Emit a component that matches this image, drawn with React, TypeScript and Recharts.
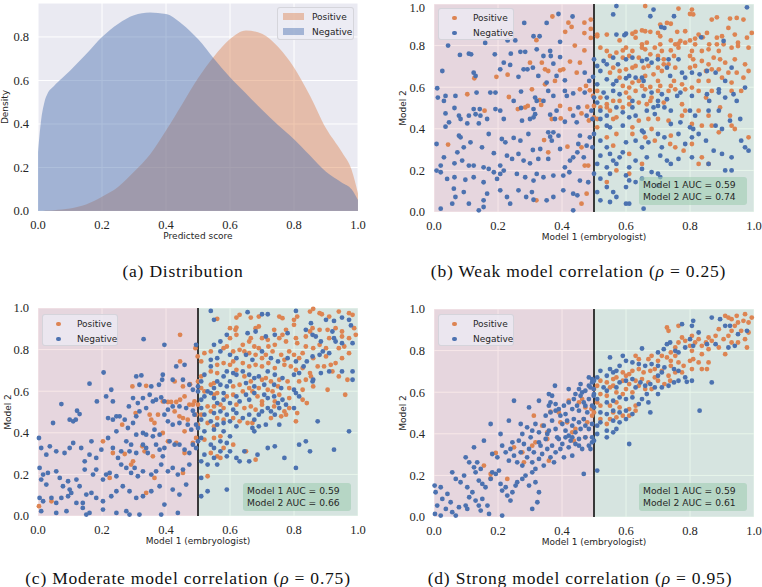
import { AreaChart, Area, ScatterChart, Scatter, XAxis, YAxis, CartesianGrid, ReferenceArea, ReferenceLine } from "recharts";

// ---- (a) density curves ----
const scoreGrid = [0, 0.01, 0.02, 0.03, 0.05, 0.075, 0.1, 0.15, 0.2, 0.25, 0.3, 0.35, 0.4, 0.45, 0.5, 0.55, 0.6, 0.65, 0.7, 0.75, 0.8, 0.85, 0.9, 0.95, 0.98, 1.0];
const positiveDensity = [0, 0, 0.001, 0.002, 0.004, 0.007, 0.012, 0.03, 0.065, 0.11, 0.18, 0.26, 0.37, 0.49, 0.61, 0.71, 0.79, 0.83, 0.815, 0.755, 0.66, 0.53, 0.38, 0.27, 0.19, 0.08];
const negativeDensity = [0.27, 0.42, 0.5, 0.54, 0.575, 0.61, 0.645, 0.72, 0.8, 0.86, 0.9, 0.912, 0.905, 0.86, 0.79, 0.7, 0.615, 0.54, 0.465, 0.395, 0.33, 0.255, 0.18, 0.13, 0.1, 0.05];

const unitTicks = [0, 0.2, 0.4, 0.6, 0.8, 1.0];
const densityTicks = [0, 0.2, 0.4, 0.6, 0.8];

// ---- (b) weak correlation ----
const weakPositive: [number, number][] = [
  [.37,.94],[.42,.91],[.47,.91],[.49,.925],[.41,.866],[.43,.89],[.47,.86],[.49,.88],[.32,.826],[.44,.80],[.49,.837],[.47,.777],[.425,.723],[.456,.718],[.30,.718],[.337,.718],[.347,.686],[.357,.678],[.394,.681],[.404,.686],[.446,.67],[.126,.643],[.195,.65],[.23,.66],[.378,.63],[.347,.614],[.475,.606],[.104,.566],[.234,.553],[.306,.59],[.33,.538],[.456,.59],[.487,.585],[.497,.558],[.158,.487],[.262,.495],[.285,.503],[.293,.51],[.335,.515],[.368,.447],[.394,.51],[.396,.45],[.425,.495],[.461,.474],[.479,.506],[.484,.44],[.044,.324],[.344,.346],[.357,.287],[.417,.314],[.461,.311],[.471,.223],[.482,.223],[.477,.088],[.461,.04],[.32,.056],
  [.66,.99],[.764,.978],[.806,.973],[.80,.952],[.81,.95],[.868,.925],[.884,.936],[.925,.93],[.946,.933],[.967,.925],[.92,.885],[.707,.901],[.728,.909],[.74,.905],[.51,.853],[.54,.853],[.51,.845],[.62,.857],[.63,.866],[.65,.873],[.66,.869],[.676,.866],[.70,.861],[.76,.866],[.785,.869],[.827,.853],[.84,.84],[.853,.861],[.884,.838],[.90,.845],[.94,.853],[.978,.838],[.993,.861],
  [.58,.825],[.63,.838],[.707,.845],[.74,.825],[.77,.822],[.80,.825],[.816,.834],[.65,.806],[.665,.814],[.707,.806],[.754,.806],[.764,.809],[.785,.814],[.816,.806],[.86,.806],[.884,.806],[.905,.806],[.95,.814],
  [.52,.79],[.54,.774],[.55,.75],[.57,.766],[.59,.777],[.60,.79],[.62,.774],[.65,.79],[.66,.782],[.69,.79],[.712,.774],[.74,.777],[.764,.79],[.806,.774],[.837,.774],[.858,.782],[.89,.774],[.93,.79],[.95,.798],[.983,.79],
  [.59,.742],[.61,.75],[.64,.742],[.676,.758],[.70,.75],[.718,.734],[.75,.75],[.80,.75],[.81,.734],[.837,.726],[.858,.71],[.874,.742],[.894,.734],[.91,.718],[.94,.734],[.972,.71],[.946,.67],[.967,.646],
  [.56,.694],[.58,.678],[.60,.686],[.62,.694],[.63,.702],[.655,.694],[.67,.702],[.70,.694],[.712,.678],[.718,.71],[.733,.71],[.754,.694],[.80,.694],[.816,.702],[.85,.678],[.868,.686],[.89,.686],[.92,.67],
  [.55,.67],[.58,.646],[.62,.622],[.64,.63],[.66,.654],[.686,.662],[.70,.63],[.75,.63],[.775,.614],[.827,.63],[.858,.63],[.90,.646],[.93,.622],[.983,.678],[.59,.606],[.61,.598],[.65,.606],[.676,.601],[.707,.606],[.74,.606],
  [.51,.582],[.52,.55],[.54,.518],[.56,.534],[.58,.534],[.60,.574],[.61,.55],[.63,.582],[.66,.59],[.68,.55],[.70,.582],[.733,.582],[.754,.59],[.785,.59],[.806,.598],[.827,.582],[.85,.55],[.868,.582],[.93,.582],[.96,.582],
  [.50,.51],[.52,.503],[.54,.503],[.55,.487],[.59,.503],[.61,.518],[.64,.526],[.665,.518],[.676,.534],[.718,.526],[.775,.518],[.785,.487],[.827,.487],[.858,.463],[.894,.503],[.925,.463],
  [.50,.455],[.51,.447],[.56,.447],[.57,.455],[.64,.439],[.67,.447],[.70,.447],[.733,.439],[.775,.463],[.806,.423],[.837,.415],[.868,.415],[.93,.415],[.94,.399],[.51,.407],[.62,.407],[.68,.399],
  [.54,.359],[.57,.375],[.62,.375],[.66,.359],[.69,.343],[.738,.327],[.78,.295],[.806,.327],[.837,.263],[.858,.231],[.983,.359],[.74,.367],[.56,.319],[.61,.279],[.65,.231],[.754,.311],[.827,.231],[.89,.383],[.57,.2],[.54,.144],[.61,.184],
];
const weakNegative: [number, number][] = [
  [.23,.825],[.254,.825],[.389,.952],[.433,.94],[.352,.909],[.282,.909],[.311,.845],[.33,.845],[.16,.813],[.044,.80],[.394,.818],[.081,.755],[.109,.761],[.116,.758],[.19,.758],[.24,.761],[.27,.77],[.285,.77],[.321,.782],[.363,.774],[.342,.75],[.365,.75],[.394,.745],[.373,.713],[.218,.718],[.238,.707],[.026,.678],[.28,.686],[.292,.686],[.309,.694],[.471,.67],[.124,.67],[.13,.654],[.207,.686],[.264,.65],[.326,.654],[.383,.654],[.352,.622],[.409,.633],[.485,.63],[.497,.65],
  [.01,.595],[.036,.558],[.067,.558],[.133,.574],[.176,.574],[.192,.574],[.272,.579],[.316,.55],[.357,.582],[.373,.558],[.409,.582],[.415,.558],[.435,.57],[.471,.574],[.031,.534],[.012,.55],[.064,.50],[.036,.474],[.078,.463],[.109,.463],[.124,.495],[.143,.495],[.13,.47],[.145,.463],[.192,.495],[.207,.487],[.166,.447],[.218,.447],[.249,.534],[.272,.50],[.311,.495],[.321,.534],[.342,.534],[.363,.468],[.311,.455],[.30,.447],[.316,.47],[.383,.487],[.435,.463],[.451,.503],[.477,.463],[.492,.487],[.378,.447],[.047,.431],[.083,.447],[.104,.426],[.14,.426],[.275,.439],[.409,.434],[.446,.431],[.495,.447],[.036,.41],
  [.008,.327],[.078,.367],[.083,.359],[.093,.311],[.073,.287],[.031,.263],[.114,.335],[.15,.311],[.171,.375],[.187,.283],[.212,.351],[.223,.335],[.249,.356],[.264,.279],[.27,.343],[.295,.375],[.309,.298],[.332,.303],[.357,.383],[.373,.383],[.389,.367],[.363,.362],[.368,.343],[.394,.303],[.451,.327],[.456,.367],[.477,.319],[.487,.359],[.495,.311],[.435,.263],[.448,.287],[.468,.263],
  [.064,.234],[.088,.247],[.109,.223],[.124,.223],[.155,.215],[.171,.207],[.207,.223],[.228,.271],[.244,.255],[.28,.247],[.30,.234],[.326,.255],[.357,.255],[.425,.247],[.409,.215],[.008,.199],[.021,.223],[.021,.191],[.041,.159],[.064,.167],[.098,.155],[.124,.167],[.155,.143],[.187,.191],[.197,.159],[.207,.183],[.218,.199],[.259,.183],[.285,.167],[.311,.151],[.321,.183],[.342,.167],[.373,.175],[.404,.175],[.423,.191],[.456,.151],[.482,.143],
  [.062,.112],[.067,.072],[.093,.096],[.155,.056],[.166,.088],[.109,.04],[.207,.104],[.228,.072],[.264,.104],[.288,.072],[.306,.096],[.311,.059],[.352,.056],[.373,.072],[.404,.104],[.435,.088],[.448,.08],[.021,.016],[.155,.024],[.238,.04],[.435,.008],[.14,.008],[.057,.04],
  [.57,.99],[.56,.95],[.686,.973],[.676,.941],[.75,.941],[.978,.984],[.71,.889],[.57,.853],[.60,.857],[.595,.85],[.72,.885],[.835,.84],[.905,.822],
  [.50,.734],[.51,.702],[.53,.726],[.54,.71],[.52,.678],[.56,.742],[.575,.71],[.60,.734],[.62,.742],[.65,.726],[.665,.734],[.68,.718],[.70,.734],[.733,.734],[.764,.734],[.728,.694],[.775,.67],[.785,.646],[.738,.654],[.806,.67],[.83,.662],[.853,.678],[.88,.67],[.93,.694],[.91,.63],[.89,.59],[.65,.646],[.655,.63],[.63,.646],[.61,.654],[.60,.643],[.57,.63],[.56,.614],[.54,.638],[.51,.614],
  [.50,.55],[.53,.574],[.54,.55],[.56,.582],[.58,.566],[.51,.526],[.62,.534],[.62,.503],[.655,.558],[.68,.574],[.70,.534],[.712,.566],[.728,.542],[.76,.558],[.77,.574],[.806,.558],[.853,.566],[.86,.534],[.89,.574],[.91,.55],[.936,.566],[.946,.534],[.972,.598],
  [.52,.487],[.54,.463],[.57,.503],[.59,.479],[.61,.455],[.63,.463],[.665,.487],[.686,.503],[.70,.51],[.72,.503],[.69,.471],[.74,.487],[.80,.487],[.816,.463],[.858,.487],[.89,.487],[.925,.439],[.957,.447],[.90,.399],[.88,.415],[.54,.415],[.52,.447],[.55,.407],[.59,.415],[.65,.391],[.655,.383],[.74,.423],[.77,.431],[.80,.407],[.81,.399],
  [.50,.375],[.52,.343],[.54,.311],[.55,.279],[.52,.271],[.56,.247],[.58,.263],[.59,.287],[.60,.335],[.63,.343],[.65,.311],[.67,.335],[.70,.375],[.72,.359],[.712,.311],[.764,.375],[.785,.327],[.806,.359],[.827,.375],[.85,.343],[.874,.295],[.90,.279],[.93,.263],[.96,.343],[.972,.311],[.983,.295],
  [.51,.231],[.54,.215],[.57,.231],[.61,.215],[.63,.247],[.665,.263],[.707,.271],[.728,.247],[.74,.231],[.764,.255],[.806,.263],[.858,.231],[.91,.2],[.65,.207],
  [.50,.184],[.52,.16],[.55,.184],[.60,.176],[.61,.152],[.63,.144],[.65,.16],[.68,.192],[.70,.184],[.707,.168],[.70,.128],[.60,.12],[.54,.12],[.51,.096],[.56,.096],[.52,.056],[.57,.072],[.55,.048],[.60,.04],[.61,.04],[.655,.016],[.93,.2],
];

// ---- (c) moderate correlation ----
const moderatePositive: [number, number][] = [
  [.444,.871],[.499,.767],[.492,.807],[.444,.743],[.295,.623],[.338,.626],[.427,.647],[.453,.623],[.475,.634],[.263,.439],[.305,.495],[.354,.463],[.364,.447],[.349,.487],[.39,.551],[.406,.548],[.416,.548],[.432,.548],[.444,.559],[.458,.575],[.473,.535],[.484,.535],[.489,.551],[.427,.503],[.442,.479],[.453,.471],[.468,.463],[.494,.487],[.375,.487],[.458,.407],[.39,.399],[.406,.359],[.203,.359],[.234,.303],[.271,.298],[.297,.263],[.291,.247],[.326,.335],[.333,.311],[.359,.287],[.432,.351],[.458,.303],[.484,.351],[.494,.375],[.224,.183],[.364,.183],[.453,.207],[.338,.111],[.003,.047],[.042,.071],
  [.56,.948],[.62,.954],[.63,.967],[.665,.954],[.69,.959],[.754,.959],[.764,.951],[.80,.943],[.81,.959],[.85,.983],[.86,.996],[.88,.975],[.887,.97],[.91,.959],[.94,.983],[.972,.975],[.983,.967],[.95,.887],
  [.60,.903],[.617,.895],[.62,.906],[.68,.903],[.69,.911],[.738,.895],[.775,.895],[.80,.919],[.85,.887],[.858,.903],[.88,.895],[.905,.895],[.93,.903],[.988,.903],[.60,.855],[.62,.871],[.665,.855],[.70,.855],[.718,.847],[.754,.855],[.764,.871],[.806,.855],[.837,.863],[.91,.855],[.95,.863],[.972,.855],[.993,.871],
  [.58,.807],[.59,.815],[.64,.823],[.66,.839],[.676,.815],[.69,.807],[.72,.815],[.74,.823],[.775,.839],[.81,.831],[.837,.815],[.86,.807],[.88,.823],[.90,.807],[.94,.807],[.957,.815],
  [.52,.783],[.54,.791],[.61,.791],[.63,.799],[.645,.791],[.66,.783],[.68,.775],[.70,.759],[.712,.775],[.733,.791],[.76,.775],[.77,.751],[.785,.791],[.80,.775],[.816,.759],[.827,.783],[.86,.759],[.90,.767],[.915,.727],[.93,.735],[.95,.759],[.972,.783],
  [.51,.743],[.56,.727],[.58,.735],[.60,.727],[.61,.743],[.64,.735],[.66,.719],[.68,.727],[.70,.719],[.72,.735],[.74,.711],[.77,.727],[.79,.719],[.806,.703],[.827,.711],[.85,.687],[.874,.719],[.894,.719],[.92,.695],[.94,.671],[.967,.655],
  [.51,.671],[.54,.695],[.56,.687],[.62,.703],[.645,.671],[.665,.647],[.70,.655],[.712,.663],[.728,.647],[.754,.655],[.78,.647],[.816,.647],[.837,.655],[.853,.671],[.86,.623],[.96,.583],[.905,.607],
  [.50,.647],[.51,.615],[.54,.631],[.55,.639],[.61,.623],[.63,.631],[.66,.615],[.69,.615],[.718,.607],[.75,.623],[.785,.615],[.827,.607],
  [.52,.599],[.55,.583],[.56,.591],[.59,.575],[.61,.583],[.64,.599],[.67,.599],[.686,.575],[.70,.551],[.733,.599],[.754,.583],[.785,.567],[.827,.559],[.84,.543],[.74,.551],
  [.50,.535],[.53,.527],[.55,.527],[.57,.535],[.58,.519],[.62,.535],[.645,.519],[.665,.527],[.68,.511],[.70,.535],[.738,.527],[.77,.503],[.785,.519],[.81,.495],
  [.51,.487],[.54,.503],[.56,.471],[.58,.463],[.61,.471],[.63,.455],[.655,.447],[.67,.447],[.728,.471],[.76,.479],[.775,.487],[.53,.447],[.55,.431],[.50,.439],[.806,.455],
  [.52,.367],[.55,.375],[.57,.383],[.58,.327],[.61,.343],[.65,.311],[.56,.287],[.54,.303],[.57,.279],[.68,.271],[.53,.191],
];
const moderateNegative: [number, number][] = [
  [.33,.85],[.395,.823],[.494,.823],[.432,.719],[.458,.727],[.205,.69],[.161,.636],[.307,.671],[.323,.676],[.317,.631],[.354,.623],[.378,.631],[.39,.679],[.388,.655],[.421,.655],[.453,.655],[.473,.631],[.484,.607],[.229,.607],[.213,.575],[.184,.551],[.234,.551],[.073,.538],[.122,.506],[.13,.49],[.118,.463],[.099,.463],[.047,.447],[.11,.455],[.245,.479],[.234,.463],[.219,.471],[.255,.479],
  [.284,.527],[.297,.567],[.312,.543],[.328,.567],[.349,.583],[.359,.551],[.369,.559],[.385,.57],[.395,.551],[.338,.519],[.317,.503],[.307,.479],[.297,.447],[.281,.423],[.271,.463],[.406,.511],[.421,.527],[.442,.527],[.463,.519],[.484,.506],[.489,.487],[.395,.487],[.406,.455],[.421,.439],[.442,.447],[.468,.439],[.479,.415],[.494,.439],[.364,.415],[.338,.391],[.359,.383],[.38,.391],[.328,.399],[.307,.391],
  [.003,.375],[.01,.327],[.037,.335],[.026,.295],[.057,.311],[.083,.303],[.099,.327],[.11,.351],[.135,.327],[.167,.359],[.146,.263],[.161,.295],[.182,.279],[.198,.319],[.219,.375],[.245,.407],[.234,.327],[.26,.311],[.25,.279],[.276,.359],[.291,.343],[.286,.311],[.307,.303],[.328,.343],[.338,.327],[.343,.303],[.369,.343],[.38,.319],[.395,.327],[.39,.287],[.411,.359],[.427,.343],[.442,.343],[.458,.319],[.473,.303],[.484,.343],[.494,.327],
  [.005,.231],[.016,.199],[.01,.175],[.026,.151],[.031,.207],[.057,.215],[.068,.183],[.078,.143],[.094,.167],[.099,.127],[.12,.175],[.13,.143],[.146,.223],[.172,.199],[.182,.223],[.203,.175],[.213,.199],[.224,.207],[.245,.191],[.26,.247],[.276,.231],[.291,.207],[.302,.231],[.312,.191],[.328,.215],[.354,.199],[.369,.215],[.385,.247],[.406,.215],[.421,.231],[.437,.199],[.453,.223],[.473,.247],
  [.005,.087],[.016,.071],[.042,.087],[.057,.063],[.073,.087],[.094,.095],[.104,.111],[.12,.063],[.14,.063],[.151,.103],[.167,.111],[.182,.087],[.203,.071],[.229,.095],[.245,.119],[.265,.143],[.286,.119],[.307,.087],[.328,.095],[.354,.119],[.38,.143],[.395,.055],[.421,.127],[.442,.103],[.463,.151],
  [.01,.023],[.057,.015],[.089,.023],[.14,.039],[.151,.007],[.161,.015],[.203,.031],[.245,.015],[.276,.023],[.286,.007],[.317,.007],[.385,.007],[.437,.015],
  [.54,.986],[.55,.943],[.655,.98],[.70,.97],[.718,.97],[.806,.986],[.853,.927],[.90,.943],[.925,.938],[.95,.954],[.972,.943],[.978,.916],[.59,.871],[.655,.879],[.68,.887],[.712,.863],[.74,.871],[.78,.879],[.837,.895],[.858,.871],[.868,.863],[.884,.839],[.92,.887],[.925,.855],[.93,.839],[.95,.831],[.983,.831],[.57,.839],[.55,.823],
  [.57,.791],[.56,.759],[.54,.751],[.54,.719],[.60,.775],[.62,.759],[.65,.775],[.67,.751],[.70,.791],[.728,.759],[.75,.743],[.78,.759],[.806,.743],[.83,.719],[.84,.743],[.858,.767],[.88,.775],[.89,.791],[.91,.783],[.95,.695],[.983,.695],[.983,.655],
  [.52,.679],[.51,.647],[.50,.623],[.56,.647],[.58,.671],[.59,.695],[.61,.687],[.62,.679],[.64,.695],[.66,.679],[.676,.663],[.69,.671],[.718,.695],[.74,.679],[.764,.663],[.80,.679],[.816,.687],[.86,.655],[.884,.687],[.91,.695],
  [.53,.599],[.55,.615],[.57,.631],[.59,.623],[.60,.647],[.65,.639],[.676,.623],[.707,.631],[.738,.631],[.76,.615],[.80,.607],[.858,.647],
  [.50,.599],[.51,.559],[.52,.575],[.54,.591],[.55,.567],[.56,.543],[.58,.591],[.58,.559],[.60,.543],[.62,.575],[.63,.551],[.65,.583],[.66,.559],[.676,.591],[.707,.583],[.718,.567],[.738,.575],[.75,.543],[.764,.559],[.806,.591],[.816,.575],
  [.51,.519],[.52,.487],[.55,.495],[.57,.503],[.59,.487],[.61,.511],[.62,.495],[.64,.471],[.66,.487],[.676,.463],[.69,.487],[.70,.503],[.718,.519],[.728,.503],[.74,.487],[.754,.519],[.775,.535],[.80,.519],
  [.51,.463],[.54,.455],[.56,.439],[.58,.447],[.60,.455],[.62,.431],[.67,.423],[.676,.407],[.69,.431],[.712,.439],[.754,.439],[.874,.455],[.972,.407],[.50,.423],[.52,.407],[.55,.415],[.58,.407],[.60,.383],
  [.50,.359],[.51,.375],[.54,.343],[.55,.327],[.57,.359],[.57,.311],[.59,.351],[.60,.311],[.52,.295],[.55,.279],[.51,.263],[.53,.247],[.56,.247],[.59,.287],[.62,.279],[.63,.263],[.645,.311],[.66,.263],[.686,.295],[.718,.327],[.74,.335],[.77,.279],[.816,.343],[.837,.359],[.85,.311],[.806,.231],[.925,.319],[.51,.183],[.59,.127],[.51,.095],[.53,.119],
];

// ---- (d) strong correlation ----
const strongPositive: [number, number][] = [
  [.312,.487],[.338,.439],[.354,.407],[.364,.506],[.39,.503],[.395,.455],[.416,.455],[.421,.559],[.432,.407],[.437,.367],[.442,.423],[.453,.551],[.463,.567],[.468,.471],[.473,.527],[.479,.455],[.492,.519],[.494,.487],[.473,.383],[.354,.375],[.156,.247],[.177,.186],[.193,.308],[.229,.183],[.276,.311],[.25,.335],[.281,.263],[.307,.343],[.317,.359],[.359,.271],[.177,.207],
  [.91,.967],[.92,.959],[.93,.951],[.946,.967],[.95,.935],[.967,.943],[.972,.975],[.983,.935],[.993,.959],[.983,.887],[.972,.855],[.96,.895],[.94,.919],[.93,.895],[.92,.871],[.905,.855],[.89,.903],[.88,.871],[.868,.847],[.858,.863],[.85,.839],[.837,.823],[.827,.855],[.816,.839],[.806,.871],[.80,.823],[.785,.847],[.775,.863],[.764,.839],[.754,.815],[.74,.791],[.733,.895],[.728,.911],[.764,.919],[.806,.799],[.837,.783],[.858,.807],[.89,.815],[.91,.783],[.93,.839],[.95,.839],[.978,.815],
  [.63,.775],[.64,.759],[.67,.759],[.68,.775],[.70,.751],[.712,.775],[.728,.767],[.74,.751],[.754,.775],[.764,.743],[.78,.727],[.80,.751],[.81,.759],[.827,.743],[.837,.711],[.853,.711],[.858,.743],[.806,.711],[.775,.695],[.754,.695],[.74,.727],[.733,.679],[.712,.703],[.69,.711],[.676,.703],[.655,.695],[.64,.711],[.62,.703],[.61,.687],[.60,.679],[.59,.695],[.57,.671],[.56,.663],[.54,.647],[.52,.655],[.51,.631],[.50,.615],[.55,.623],[.56,.631],[.59,.655],[.61,.639],[.63,.655],[.64,.631],[.65,.663],[.67,.647],[.69,.671],[.70,.655],[.72,.639],[.738,.655],[.60,.615],[.62,.599],[.59,.591],[.57,.599],[.54,.583],[.52,.591],[.66,.615],[.68,.615],
  [.51,.551],[.52,.535],[.55,.535],[.57,.551],[.58,.527],[.61,.519],[.63,.535],[.61,.487],[.59,.487],[.57,.479],[.55,.471],[.54,.447],[.52,.471],[.50,.503],[.63,.511],[.56,.503],
];
const strongNegative: [number, number][] = [
  [.002,.151],[.005,.119],[.021,.143],[.026,.087],[.042,.111],[.052,.071],[.01,.055],[.037,.039],[.057,.023],[.078,.047],[.003,.015],[.021,.007],[.068,.007],
  [.057,.215],[.068,.183],[.083,.167],[.094,.199],[.104,.143],[.11,.095],[.12,.119],[.13,.079],[.099,.055],[.104,.039],[.14,.055],[.151,.087],[.146,.031],[.167,.055],[.172,.015],[.213,.007],
  [.099,.287],[.11,.263],[.125,.239],[.135,.263],[.13,.215],[.146,.231],[.14,.175],[.151,.159],[.161,.143],[.177,.183],[.182,.215],[.193,.207],[.203,.223],[.208,.159],[.213,.127],[.224,.143],[.229,.103],[.239,.079],[.245,.119],[.255,.151],[.26,.167],[.276,.183],[.286,.199],[.297,.151],[.307,.215],[.317,.167],[.328,.119],[.323,.071],[.307,.039],
  [.125,.335],[.156,.367],[.177,.447],[.182,.303],[.198,.287],[.208,.399],[.213,.343],[.224,.311],[.234,.271],[.239,.327],[.245,.359],[.25,.295],[.26,.263],[.265,.367],[.271,.311],[.276,.247],[.281,.351],[.291,.287],[.297,.327],[.302,.383],[.307,.263],[.312,.311],[.317,.231],[.328,.279],[.333,.343],[.338,.303],[.343,.247],[.349,.375],[.354,.327],[.364,.287],[.369,.343],[.375,.263],[.38,.311],[.39,.375],[.395,.327],[.401,.351],[.406,.287],[.411,.383],[.421,.335],[.427,.367],[.432,.295],[.442,.351],[.453,.375],[.463,.327],[.468,.207],[.484,.343],[.494,.359],
  [.234,.463],[.271,.447],[.276,.399],[.291,.431],[.307,.415],[.317,.447],[.328,.407],[.343,.439],[.354,.399],[.359,.415],[.364,.503],[.369,.463],[.38,.423],[.385,.383],[.395,.487],[.401,.447],[.411,.415],[.416,.463],[.421,.391],[.432,.439],[.437,.471],[.442,.407],[.453,.455],[.458,.423],[.468,.471],[.473,.439],[.484,.423],[.494,.447],[.432,.383],[.453,.343],[.473,.383],[.494,.383],[.489,.327],
  [.25,.559],[.297,.527],[.328,.559],[.349,.487],[.359,.535],[.369,.583],[.38,.511],[.39,.519],[.406,.535],[.411,.495],[.421,.551],[.432,.519],[.437,.567],[.447,.535],[.453,.511],[.458,.583],[.468,.551],[.473,.535],[.479,.503],[.484,.567],[.494,.535],[.499,.583],[.359,.591],[.364,.551],[.38,.543],
  [.421,.615],[.442,.591],[.453,.615],[.458,.639],[.463,.599],[.473,.607],[.484,.631],[.489,.623],[.494,.647],[.499,.615],[.484,.671],[.494,.663],[.378,.631],[.328,.359],
  [.868,.959],[.894,.951],[.91,.919],[.925,.919],[.95,.879],[.978,.895],[.81,.943],[.806,.919],[.775,.927],[.80,.855],[.785,.815],[.754,.799],[.738,.839],[.65,.81],[.70,.791],[.718,.807],[.88,.831],[.853,.831],[.827,.887],[.81,.823],[.764,.791],[.728,.831],[.94,.823],[.92,.815],
  [.55,.767],[.59,.775],[.60,.751],[.58,.727],[.57,.703],[.55,.711],[.52,.703],[.51,.671],[.62,.743],[.64,.735],[.66,.727],[.68,.735],[.70,.727],[.712,.695],[.70,.679],[.72,.719],[.75,.711],[.764,.703],[.785,.671],[.806,.655],[.79,.65],[.764,.655],[.75,.647],[.733,.631],[.712,.623],[.69,.623],[.676,.639],[.66,.631],[.645,.647],[.62,.663],[.60,.655],[.58,.647],[.56,.695],[.54,.679],[.50,.655],[.868,.647],[.57,.623],[.54,.607],[.53,.623],[.63,.623],
  [.70,.591],[.665,.591],[.65,.567],[.67,.551],[.64,.543],[.62,.575],[.60,.567],[.58,.575],[.56,.559],[.54,.551],[.51,.567],[.50,.591],
  [.50,.527],[.52,.503],[.54,.495],[.56,.511],[.58,.503],[.60,.511],[.62,.495],[.676,.503],[.56,.463],[.58,.455],[.60,.471],[.52,.455],[.51,.439],[.54,.415],[.57,.423],[.51,.399],[.54,.383],[.56,.407],[.50,.367],[.61,.351],[.83,.511],[.51,.223],
];

const ORANGE = "#DD8452";
const BLUE = "#4C72B0";
const SANS = "'DejaVu Sans', sans-serif";
const SERIF = "'Liberation Serif', serif";
const TEXT = "#262626";

const tickStyle = { fontFamily: SERIF, fontSize: 12.5, fill: TEXT };
const fmt = (v: number) => v.toFixed(1);
const toPoints = (arr: [number, number][]) => arr.map(([x, y]) => ({ x, y }));

const densityData = scoreGrid.map((x, i) => ({ x, pos: positiveDensity[i], neg: negativeDensity[i] }));

function Dot(props: any) {
  const { cx, cy, fill } = props;
  if (cx == null || cy == null) return null;
  return <circle cx={cx} cy={cy} r={2.4} fill={fill} />;
}

function ScatterLegend({ left, top }: { left: number; top: number }) {
  return (
    <div
      style={{
        position: "absolute",
        left,
        top,
        width: 76,
        height: 32,
        background: "rgba(236,234,242,0.8)",
        border: "1px solid rgba(210,210,216,0.9)",
        borderRadius: 3,
        boxSizing: "border-box",
        fontFamily: SANS,
        fontSize: 9,
        color: TEXT,
      }}
    >
      {[["Positive", ORANGE], ["Negative", BLUE]].map(([label, color], i) => (
        <div key={label} style={{ position: "absolute", left: 0, top: 3 + i * 15, height: 12, display: "flex", alignItems: "center" }}>
          <span style={{ position: "absolute", left: 13, width: 4.6, height: 4.6, borderRadius: "50%", background: color }} />
          <span style={{ position: "absolute", left: 34, whiteSpace: "nowrap" }}>{label}</span>
        </div>
      ))}
    </div>
  );
}

function AucBox({ left, top, m1, m2 }: { left: number; top: number; m1: string; m2: string }) {
  return (
    <div
      style={{
        position: "absolute",
        left,
        top,
        width: 108,
        height: 28,
        background: "rgba(160,205,178,0.6)",
        borderRadius: 3,
        fontFamily: SANS,
        fontSize: 9.2,
        lineHeight: "12px",
        color: TEXT,
        padding: "2px 0 0 4px",
        boxSizing: "border-box",
        whiteSpace: "nowrap",
      }}
    >
      <div>Model 1 AUC = {m1}</div>
      <div>Model 2 AUC = {m2}</div>
    </div>
  );
}

function Caption({ left, top, width, children }: { left: number; top: number; width: number; children: any }) {
  return (
    <div
      style={{
        position: "absolute",
        left,
        top,
        width,
        textAlign: "center",
        fontFamily: SERIF,
        fontSize: 17.5,
        letterSpacing: 0.8,
        lineHeight: "20px",
        color: "#111",
        whiteSpace: "nowrap",
      }}
    >
      {children}
    </div>
  );
}

function CorrPanel({
  positive,
  negative,
  width,
  marginTop,
  marginRight,
  yAxisWidth,
  yLabelOffset,
}: {
  positive: [number, number][];
  negative: [number, number][];
  width: number;
  marginTop: number;
  marginRight: number;
  yAxisWidth: number;
  yLabelOffset: number;
}) {
  return (
    <ScatterChart width={width} height={marginTop + 208 + 38} margin={{ top: marginTop, right: marginRight, bottom: 0, left: 0 }}>
      <CartesianGrid stroke="#fff" strokeWidth={1} fill="#EAEAF2" fillOpacity={1} />
      <ReferenceArea x1={0} x2={0.5} y1={0} y2={1} fill="#CF656D" fillOpacity={0.15} stroke="none" />
      <ReferenceArea x1={0.5} x2={1} y1={0} y2={1} fill="#65C27A" fillOpacity={0.15} stroke="none" />
      <XAxis
        type="number"
        dataKey="x"
        domain={[0, 1]}
        ticks={unitTicks}
        tickFormatter={fmt}
        tick={tickStyle}
        axisLine={false}
        tickLine={false}
        tickSize={6}
        tickMargin={3}
        height={38}
        label={{ value: "Model 1 (embryologist)", position: "insideTop", offset: 22, style: { fontFamily: SANS, fontSize: 9, fill: TEXT } }}
      />
      <YAxis
        type="number"
        dataKey="y"
        domain={[0, 1]}
        ticks={unitTicks}
        tickFormatter={fmt}
        tick={tickStyle}
        axisLine={false}
        tickLine={false}
        tickSize={6}
        tickMargin={3}
        width={yAxisWidth}
        label={{ value: "Model 2", angle: -90, position: "insideLeft", offset: yLabelOffset, style: { fontFamily: SANS, fontSize: 9, fill: TEXT, textAnchor: "middle" } }}
      />
      <ReferenceLine x={0.5} stroke="#000" strokeWidth={1.5} />
      <Scatter data={toPoints(positive)} fill={ORANGE} shape={<Dot />} isAnimationActive={false} />
      <Scatter data={toPoints(negative)} fill={BLUE} shape={<Dot />} isAnimationActive={false} />
    </ScatterChart>
  );
}

export default function App() {
  return (
    <div style={{ position: "absolute", left: 0, top: 0, width: 762, height: 587, background: "#fff", overflow: "hidden" }}>
      {/* (a) */}
      <div style={{ position: "absolute", left: 0, top: 0 }}>
        <AreaChart width={370} height={250} data={densityData} margin={{ top: 3, right: 12, bottom: 0, left: 0 }}>
          <CartesianGrid stroke="#fff" strokeWidth={1} fill="#EAEAF2" fillOpacity={1} />
          <XAxis
            type="number"
            dataKey="x"
            domain={[0, 1]}
            ticks={unitTicks}
            tickFormatter={fmt}
            tick={tickStyle}
            axisLine={false}
            tickLine={false}
            tickSize={6}
            tickMargin={3}
            height={39}
            label={{ value: "Predicted score", position: "insideTop", offset: 22, style: { fontFamily: SANS, fontSize: 9, fill: TEXT } }}
          />
          <YAxis
            type="number"
            domain={[0, 0.956]}
            ticks={densityTicks}
            tickFormatter={fmt}
            tick={tickStyle}
            axisLine={false}
            tickLine={false}
            tickSize={6}
            tickMargin={3}
            width={38}
            label={{ value: "Density", angle: -90, position: "insideLeft", offset: 4.5, style: { fontFamily: SANS, fontSize: 9, fill: TEXT, textAnchor: "middle" } }}
          />
          <Area type="monotone" dataKey="pos" stroke="none" fill={ORANGE} fillOpacity={0.45} isAnimationActive={false} />
          <Area type="monotone" dataKey="neg" stroke="none" fill={BLUE} fillOpacity={0.45} isAnimationActive={false} />
        </AreaChart>
        <div
          style={{
            position: "absolute",
            left: 277,
            top: 7,
            width: 77,
            height: 33,
            background: "rgba(236,236,244,0.8)",
            border: "1px solid rgba(210,210,216,0.9)",
            borderRadius: 3,
            boxSizing: "border-box",
            fontFamily: SANS,
            fontSize: 9,
            color: TEXT,
          }}
        >
          <span style={{ position: "absolute", left: 4.5, top: 4.5, width: 21.5, height: 7.5, background: ORANGE, opacity: 0.45 }} />
          <span style={{ position: "absolute", left: 34, top: 2.5, lineHeight: "12px" }}>Positive</span>
          <span style={{ position: "absolute", left: 4.5, top: 19.5, width: 21.5, height: 7.5, background: BLUE, opacity: 0.45 }} />
          <span style={{ position: "absolute", left: 34, top: 17.5, lineHeight: "12px" }}>Negative</span>
        </div>
      </div>
      <Caption left={0} top={261} width={366}>(a) Distribution</Caption>

      {/* (b) */}
      <div style={{ position: "absolute", left: 381, top: 0 }}>
        <CorrPanel positive={weakPositive} negative={weakNegative} width={381} marginTop={4} marginRight={8} yAxisWidth={53} yLabelOffset={21.7} />
        <ScatterLegend left={57} top={8} />
        <AucBox left={258} top={177} m1="0.59" m2="0.74" />
      </div>
      <Caption left={388} top={261} width={381}>
        (b) Weak model correlation (<i>ρ</i> = 0.25)
      </Caption>

      {/* (c) */}
      <div style={{ position: "absolute", left: 0, top: 295 }}>
        <CorrPanel positive={moderatePositive} negative={moderateNegative} width={370} marginTop={13} marginRight={12} yAxisWidth={38} yLabelOffset={8.3} />
        <ScatterLegend left={42} top={19} />
        <AucBox left={243} top={188} m1="0.59" m2="0.66" />
      </div>
      <Caption left={0} top={568} width={376}>
        (c) Moderate model correlation (<i>ρ</i> = 0.75)
      </Caption>

      {/* (d) */}
      <div style={{ position: "absolute", left: 381, top: 295 }}>
        <CorrPanel positive={strongPositive} negative={strongNegative} width={381} marginTop={14} marginRight={8} yAxisWidth={53} yLabelOffset={21.7} />
        <ScatterLegend left={57} top={19} />
        <AucBox left={258} top={188} m1="0.59" m2="0.61" />
      </div>
      <Caption left={390} top={568} width={380}>
        (d) Strong model correlation (<i>ρ</i> = 0.95)
      </Caption>
    </div>
  );
}
